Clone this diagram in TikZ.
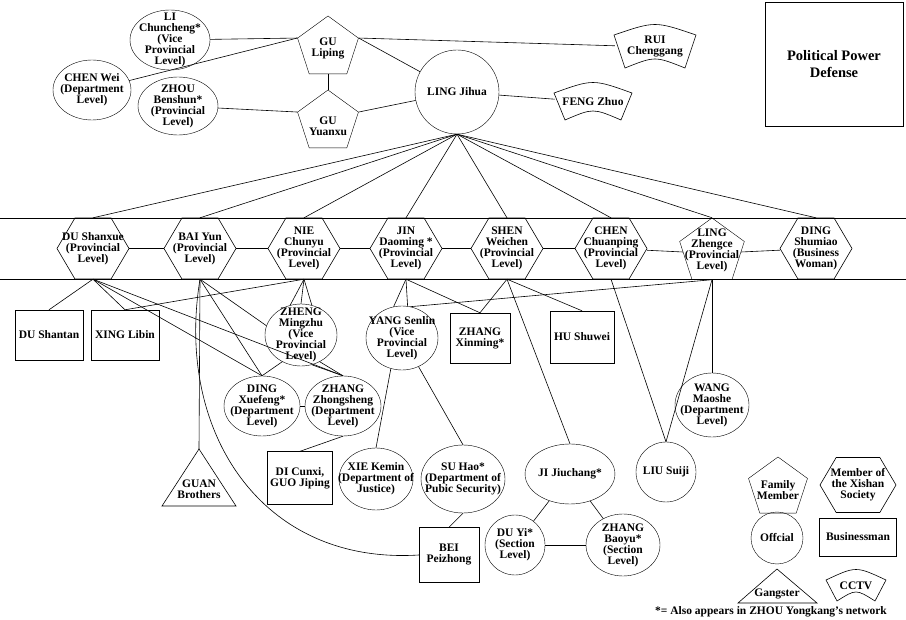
\documentclass[tikz,border=0pt]{standalone}
\usepackage{fontspec}
\setmainfont{Liberation Serif}
\usetikzlibrary{shapes.geometric}
\begin{document}
\begin{tikzpicture}[x=1pt,y=-1pt,
  every node/.style={font=\bfseries\fontsize{11.5}{11}\selectfont,align=center,inner sep=0pt},
  every label/.style={font=\bfseries\fontsize{11.5}{11}\selectfont,align=center,inner sep=0pt},
  ell/.style={draw,ellipse},
  box/.style={draw,rectangle},
  pent/.style={draw,regular polygon,regular polygon sides=5},
  hexn/.style={minimum width=72,minimum height=61},
  ln/.style={line width=0.6pt}]
\useasboundingbox (0,0) rectangle (906,620);
\newcommand\cctvshape[4]{% x y w h
  \draw[ln] ({#1-#3/2},{#2-#4/2+9}) .. controls (#1,{#2-#4/2-5}) .. ({#1+#3/2},{#2-#4/2+9})
    -- ({#1+#3/2-11},{#2+#4/2}) .. controls (#1,{#2+#4/2-12}) .. ({#1-#3/2+11},{#2+#4/2}) -- cycle;}
\newcommand\hexshape[4]{% x y w h
  \draw[ln] ({#1-#3/2},#2) -- ({#1-#3/2+#4/3.4},{#2-#4/2}) -- ({#1+#3/2-#4/3.4},{#2-#4/2})
    -- ({#1+#3/2},#2) -- ({#1+#3/2-#4/3.4},{#2+#4/2}) -- ({#1-#3/2+#4/3.4},{#2+#4/2}) -- cycle;}
% rows
\draw[ln] (0,218) -- (906,218);
\draw[ln] (0,279) -- (906,279);
% title
\node[box,minimum width=138,minimum height=124,font=\bfseries\fontsize{14.5}{17}\selectfont] (title) at (834,64) {Political Power\\Defense};
% top
\node[ell,minimum width=80,minimum height=60,label={center:{LI\\Chuncheng*\\(Vice\\Provincial\\Level)}}] (li) at (170,40) {};
\node[ell,minimum width=78,minimum height=60,label={center:{CHEN Wei\\(Department\\Level)}}] (chw) at (92,90) {};
\node[ell,minimum width=80,minimum height=58,label={center:{ZHOU\\Benshun*\\(Provincial\\Level)}}] (zhou) at (178,106) {};
\node[pent,minimum size=64] (gul) at (328,48) {};
\node at (328,48) {GU\\Liping};
\node[pent,minimum size=64] (guy) at (328,122) {};
\node at (328,126) {GU\\Yuanxu};
\node[draw,circle,minimum size=84] (lj) at (457,92) {LING Jihua};
\node[minimum width=80,minimum height=40] (rui) at (655,47) {RUI\\Chenggang};
\cctvshape{655}{47}{82}{42}
\node[minimum width=76,minimum height=36] (feng) at (593,102) {FENG Zhuo};
\cctvshape{593}{102}{78}{36}
% row
\foreach \x in {93,200,304,406,507,611,816} {\hexshape{\x}{248.5}{72}{61}}
\node[hexn] (du) at (93,248.5) {DU Shanxue\\(Provincial\\Level)};
\node[hexn] (bai) at (200,248.5) {BAI Yun\\(Provincial\\Level)};
\node[hexn] (nie) at (304,248.5) {NIE\\Chunyu\\(Provincial\\Level)};
\node[hexn] (jin) at (406,248.5) {JIN\\Daoming *\\(Provincial\\Level)};
\node[hexn] (shen) at (507,248.5) {SHEN\\Weichen\\(Provincial\\Level)};
\node[hexn] (chc) at (611,248.5) {CHEN\\Chuanping\\(Provincial\\Level)};
\node[pent,minimum size=68] (lz) at (712,252) {};
\node at (712,250) {LING\\Zhengce\\(Provincial\\Level)};
\node[hexn] (ding) at (816,248.5) {DING\\Shumiao\\(Business\\Woman)};
% lower
\node[box,minimum width=68,minimum height=50] (dus) at (49,335) {DU Shantan};
\node[box,minimum width=68,minimum height=50] (xing) at (125,335) {XING Libin};
\node[ell,minimum width=72,minimum height=62,label={center:{ZHENG\\Mingzhu\\(Vice\\Provincial\\Level)}}] (zheng) at (301,335) {};
\node[ell,minimum width=72,minimum height=64,label={center:{YANG Senlin\\(Vice\\Provincial\\Level)}}] (yang) at (402,338) {};
\node[box,minimum width=60,minimum height=50] (zx) at (480,338) {ZHANG\\Xinming*};
\node[box,minimum width=64,minimum height=52] (hu) at (582,337) {HU Shuwei};
\node[ell,minimum width=76,minimum height=60,label={center:{DING\\Xuefeng*\\(Department\\Level)}}] (dx) at (262,406) {};
\node[ell,minimum width=76,minimum height=60,label={center:{ZHANG\\Zhongsheng\\(Department\\Level)}}] (zz) at (343,406) {};
\node[ell,minimum width=74,minimum height=64,label={center:{WANG\\Maoshe\\(Department\\Level)}}] (wang) at (712,405) {};
\node[box,minimum width=65,minimum height=53] (di) at (300,478) {DI Cunxi,\\GUO Jiping};
\node[ell,minimum width=74,minimum height=62,label={center:{XIE Kemin\\(Department of\\Justice)}}] (xie) at (376,479) {};
\node[ell,minimum width=84,minimum height=68,label={center:{SU Hao*\\(Department of\\Pubic Security)}}] (su) at (463,479) {};
\node[ell,minimum width=76,minimum height=60] (ji) at (570,474) {JI Jiuchang*};
\node[draw,circle,minimum size=60] (liu) at (666,472) {LIU Suiji};
\draw[ln] (199,449) -- (236,506) -- (162,506) -- cycle;
\node[minimum width=74,minimum height=57] (guan) at (199,478) {};
\node at (199,489) {GUAN\\Brothers};
\node[box,minimum width=60,minimum height=55] (bei) at (449,555) {BEI\\Peizhong};
\node[ell,minimum width=60,minimum height=60,label={center:{DU Yi*\\(Section\\Level)}}] (duyi) at (515,545) {};
\node[ell,minimum width=74,minimum height=62,label={center:{ZHANG\\Baoyu*\\(Section\\Level)}}] (zb) at (623,545) {};
% legend
\node[pent,minimum size=62] (lfam) at (778,488) {};
\node at (778,490) {Family\\Member};
\hexshape{858}{485}{76}{55}
\node (lxi) at (858,485) {Member of\\the Xishan\\Society};
\node[draw,circle,minimum size=52] (loff) at (777,538) {Offcial};
\node[box,minimum width=77,minimum height=38] (lbus) at (858,537) {Businessman};
\draw[ln] (777,569) -- (817,603) -- (738,603) -- cycle;
\node (lgang) at (777,594) {Gangster};
\node[minimum width=58,minimum height=28] (lcctv) at (856,586) {CCTV};
\cctvshape{856}{586}{60}{30}
\node (foot) at (771,612) {*= Also appears in ZHOU Yongkang's network};
% connectors
\begin{scope}[ln]
\draw (li) -- (gul.corner 2);
\draw (chw) -- (gul.corner 2);
\draw (gul.corner 5) -- (rui);
\draw (gul.corner 5) -- (lj);
\draw (gul) -- (guy);
\draw (zhou) -- (guy.corner 2);
\draw (guy.corner 5) -- (lj);
\draw (lj) -- (feng);
\foreach \n in {du,bai,nie,jin,shen,chc,ding} \draw (lj.south) -- (\n.north);
\draw (lj.south) -- (lz.corner 1);
\draw (du) -- (bai) -- (nie) -- (jin) -- (shen) -- (chc) -- (lz.west);
\draw (lz.east) -- (ding);
\draw (du.south) -- (dus.north);
\draw (du.south) -- (xing.north);
\draw (du.south) -- (dx.north);
\draw (du.south) -- (zz.north);
\draw (nie.south) -- (xing.north);
\draw (nie.south) -- (zheng.north);
\draw (nie.south) -- (zheng.110);
\draw (nie.south) -- (zheng.70);
\draw (bai.south) -- (guan.north);
\draw (bai.south) .. controls (175,430) and (260,565) .. (bei.west);
\draw (bai.south) -- (dx.north);
\draw (bai.south) -- (zheng.165);
\draw (zheng.235) -- (dx.north);
\draw (zheng.290) -- (zz.north);
\draw (zheng.305) -- (zz.north);
\draw (dx) -- (zz);
\draw (zz.south) -- (di.north);
\draw (jin.south) -- (yang.105);
\draw (jin.south) -- (yang.80);
\draw (jin.south) -- (zx.north);
\draw (lz.south) -- (yang.75);
\draw (shen.south) -- (zx.north);
\draw (shen.south) -- (hu.north);
\draw (shen.south) -- (ji.north);
\draw (chc.south) -- (liu.north);
\draw (lz.south) -- (liu.north);
\draw (lz.south) -- (wang.north);
\draw (yang.250) -- (xie.north);
\draw (yang.300) -- (su.north);
\draw (su.south) -- (bei.north);
\draw (ji) -- (duyi);
\draw (ji) -- (zb);
\draw (duyi) -- (zb);
\end{scope}
\end{tikzpicture}
\end{document}
